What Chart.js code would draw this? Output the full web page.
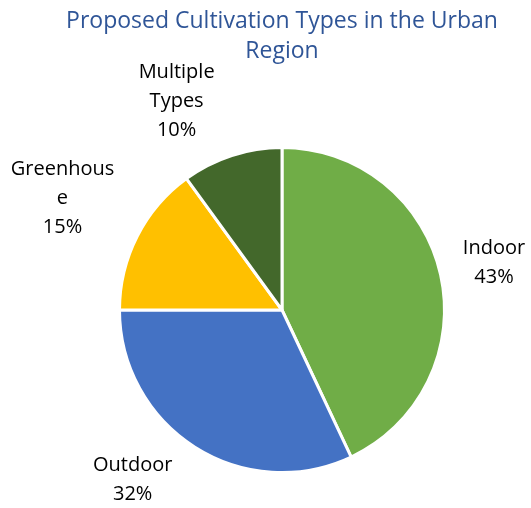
<!DOCTYPE html>
<html>
<head>
<meta charset="utf-8">
<script src="https://cdn.jsdelivr.net/npm/chart.js@4.4.1/dist/chart.umd.min.js"></script>
<style>
  html, body { margin: 0; padding: 0; background: #fff; }
  #wrap { width: 531px; height: 508px; position: relative; }
</style>
</head>
<body>
<div id="wrap"><canvas id="chart1"></canvas></div>
<script>
// cultivation types and their share (%)
const categories = ['Indoor', 'Outdoor', 'Greenhouse', 'Multiple Types'];
const shares = [43, 32, 15, 10];
const colors = ['#70AD47', '#4472C4', '#FFC000', '#43682B'];
const titleLines = ['Proposed Cultivation Types in the Urban', 'Region'];

const labelFont = '20px "Open Sans"';
const lineH = 29;
const labelTop = 58;     // labels stay under the title
const labelBottom = 509; // and near the bottom edge

// break text into lines no wider than maxW, splitting long words by letter
function wrapText(ctx, text, maxW) {
    var lines = [];
    var cur = '';
    text.split(' ').forEach(function (word) {
        var test = cur ? cur + ' ' + word : word;
        if (ctx.measureText(test).width <= maxW) {
            cur = test;
            return;
        }
        if (cur) lines.push(cur);
        cur = '';
        for (var ch of word) {
            if (cur && ctx.measureText(cur + ch).width > maxW) {
                lines.push(cur);
                cur = ch;
            } else {
                cur += ch;
            }
        }
    });
    if (cur) lines.push(cur);
    return lines;
}

// two-line title, centred over the pie
const titleText = {
    id: 'titleText',
    afterDraw(chart) {
        const ctx = chart.ctx;
        const meta = chart.getDatasetMeta(0);
        const x = meta.data[0].x;
        ctx.save();
        ctx.font = '23px "Open Sans"';
        ctx.fillStyle = '#2F5597';
        ctx.textAlign = 'center';
        ctx.textBaseline = 'middle';
        titleLines.forEach(function (t, k) {
            ctx.fillText(t, x, 21 + k * 30);
        });
        ctx.restore();
    }
};

// category name + percentage outside each slice
const sliceLabels = {
    id: 'sliceLabels',
    afterDatasetsDraw(chart) {
        const ctx = chart.ctx;
        const meta = chart.getDatasetMeta(0);
        const total = shares.reduce((a, b) => a + b, 0);
        ctx.save();
        ctx.font = labelFont;
        ctx.fillStyle = '#000';
        ctx.textAlign = 'center';
        ctx.textBaseline = 'middle';
        meta.data.forEach(function (arc, i) {
            const p = arc.getProps(['x', 'y', 'startAngle', 'endAngle', 'outerRadius'], true);
            const mid = (p.startAngle + p.endAngle) / 2;
            const ux = Math.cos(mid), uy = Math.sin(mid);
            const lines = wrapText(ctx, categories[i], 108);
            lines.push(Math.round(shares[i] / total * 100) + '%');
            const w = Math.max.apply(null, lines.map(l => ctx.measureText(l).width));
            const h = lines.length * lineH;
            // distance so the label box clears the rim
            const r = p.outerRadius + 18 + Math.abs(ux) * w / 2 + Math.abs(uy) * h / 2;
            let cx = p.x + r * ux;
            let cy = p.y + r * uy;
            // keep inside the free band, sliding round the circle
            let ny = null;
            if (cy - h / 2 < labelTop) ny = labelTop + h / 2;
            if (cy + h / 2 > labelBottom) ny = labelBottom - h / 2;
            if (ny !== null) {
                const dy = ny - p.y;
                cy = ny;
                cx = p.x + Math.sign(ux) * Math.sqrt(Math.max(r * r - dy * dy, 0));
            }
            lines.forEach(function (l, k) {
                ctx.fillText(l, cx, cy - h / 2 + lineH * (k + 0.5));
            });
        });
        ctx.restore();
    }
};

const chart1 = document.getElementById('chart1');
new Chart(chart1, {
    type: 'pie',
    data: {
        labels: categories,
        datasets: [{
            data: shares,
            backgroundColor: colors,
            borderColor: '#fff',
            borderWidth: 3
        }]
    },
    options: {
        responsive: true,
        maintainAspectRatio: false,
        animation: false,
        layout: { padding: { left: 118, right: 85, top: 146, bottom: 34 } },
        plugins: {
            legend: { display: false },
            tooltip: { enabled: false },
            title: { display: false }
        }
    },
    plugins: [sliceLabels, titleText]
});
</script>
</body>
</html>
